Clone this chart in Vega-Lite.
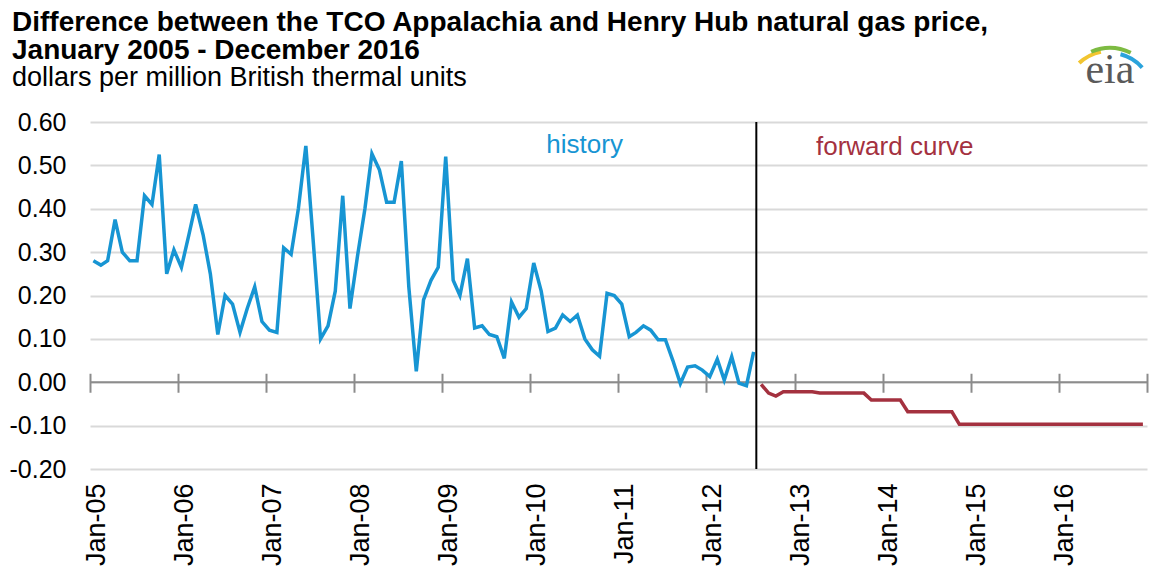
{
  "$schema": "https://vega.github.io/schema/vega-lite/v6.json",
  "width": 1057,
  "height": 347,
  "autosize": {"type": "none"},
  "padding": {"left": 90, "top": 122, "right": 6, "bottom": 109},
  "background": "white",
  "title": {
    "text": ["Difference between the TCO Appalachia and Henry Hub natural gas price,", "January 2005 - December  2016"],
    "subtitle": "dollars per million British thermal units",
    "anchor": "start",
    "frame": "group",
    "dx": -78,
    "dy": 65,
    "font": "Liberation Sans",
    "fontSize": 28,
    "fontWeight": "bold",
    "color": "#000000",
    "lineHeight": 28,
    "subtitleFont": "Liberation Sans",
    "subtitleFontSize": 27,
    "subtitleColor": "#000000",
    "subtitleLineHeight": 28,
    "subtitlePadding": 0,
    "offset": 20
  },
  "config": {
    "view": {"stroke": null},
    "axis": {"labelFont": "Liberation Sans", "labelColor": "#000000", "title": null}
  },
  "datasets": {
    "history": [
      {"date": "2005/01/15", "value": 0.28}, {"date": "2005/02/15", "value": 0.27}, {"date": "2005/03/15", "value": 0.28},
      {"date": "2005/04/15", "value": 0.375}, {"date": "2005/05/15", "value": 0.30}, {"date": "2005/06/15", "value": 0.28},
      {"date": "2005/07/15", "value": 0.28}, {"date": "2005/08/15", "value": 0.43}, {"date": "2005/09/15", "value": 0.41},
      {"date": "2005/10/15", "value": 0.525}, {"date": "2005/11/15", "value": 0.25}, {"date": "2005/12/15", "value": 0.305},
      {"date": "2006/01/15", "value": 0.265}, {"date": "2006/02/15", "value": 0.34}, {"date": "2006/03/15", "value": 0.41},
      {"date": "2006/04/15", "value": 0.34}, {"date": "2006/05/15", "value": 0.25}, {"date": "2006/06/15", "value": 0.11},
      {"date": "2006/07/15", "value": 0.20}, {"date": "2006/08/15", "value": 0.18}, {"date": "2006/09/15", "value": 0.115},
      {"date": "2006/10/15", "value": 0.17}, {"date": "2006/11/15", "value": 0.22}, {"date": "2006/12/15", "value": 0.14},
      {"date": "2007/01/15", "value": 0.12}, {"date": "2007/02/15", "value": 0.115}, {"date": "2007/03/15", "value": 0.31},
      {"date": "2007/04/15", "value": 0.295}, {"date": "2007/05/15", "value": 0.40}, {"date": "2007/06/15", "value": 0.545},
      {"date": "2007/07/15", "value": 0.33}, {"date": "2007/08/15", "value": 0.10}, {"date": "2007/09/15", "value": 0.13},
      {"date": "2007/10/15", "value": 0.21}, {"date": "2007/11/15", "value": 0.43}, {"date": "2007/12/15", "value": 0.17},
      {"date": "2008/01/15", "value": 0.29}, {"date": "2008/02/15", "value": 0.40}, {"date": "2008/03/15", "value": 0.527},
      {"date": "2008/04/15", "value": 0.49}, {"date": "2008/05/15", "value": 0.415}, {"date": "2008/06/15", "value": 0.415},
      {"date": "2008/07/15", "value": 0.51}, {"date": "2008/08/15", "value": 0.22}, {"date": "2008/09/15", "value": 0.025},
      {"date": "2008/10/15", "value": 0.19}, {"date": "2008/11/15", "value": 0.235}, {"date": "2008/12/15", "value": 0.265},
      {"date": "2009/01/15", "value": 0.52}, {"date": "2009/02/15", "value": 0.235}, {"date": "2009/03/15", "value": 0.20},
      {"date": "2009/04/15", "value": 0.285}, {"date": "2009/05/15", "value": 0.125}, {"date": "2009/06/15", "value": 0.13},
      {"date": "2009/07/15", "value": 0.11}, {"date": "2009/08/15", "value": 0.105}, {"date": "2009/09/15", "value": 0.055},
      {"date": "2009/10/15", "value": 0.185}, {"date": "2009/11/15", "value": 0.15}, {"date": "2009/12/15", "value": 0.17},
      {"date": "2010/01/15", "value": 0.275}, {"date": "2010/02/15", "value": 0.21}, {"date": "2010/03/15", "value": 0.117},
      {"date": "2010/04/15", "value": 0.125}, {"date": "2010/05/15", "value": 0.155}, {"date": "2010/06/15", "value": 0.14},
      {"date": "2010/07/15", "value": 0.155}, {"date": "2010/08/15", "value": 0.10}, {"date": "2010/09/15", "value": 0.075},
      {"date": "2010/10/15", "value": 0.06}, {"date": "2010/11/15", "value": 0.205}, {"date": "2010/12/15", "value": 0.20},
      {"date": "2011/01/15", "value": 0.18}, {"date": "2011/02/15", "value": 0.105}, {"date": "2011/03/15", "value": 0.115},
      {"date": "2011/04/15", "value": 0.13}, {"date": "2011/05/15", "value": 0.12}, {"date": "2011/06/15", "value": 0.098},
      {"date": "2011/07/15", "value": 0.098}, {"date": "2011/08/15", "value": 0.05}, {"date": "2011/09/15", "value": -0.003},
      {"date": "2011/10/15", "value": 0.035}, {"date": "2011/11/15", "value": 0.038}, {"date": "2011/12/15", "value": 0.028},
      {"date": "2012/01/15", "value": 0.013}, {"date": "2012/02/15", "value": 0.053}, {"date": "2012/03/15", "value": 0.005},
      {"date": "2012/04/15", "value": 0.059}, {"date": "2012/05/15", "value": -0.002}, {"date": "2012/06/15", "value": -0.008},
      {"date": "2012/07/15", "value": 0.07}
    ],
    "forward": [
      {"date": "2012/08/15", "value": -0.005}, {"date": "2012/09/15", "value": -0.025}, {"date": "2012/10/15", "value": -0.032},
      {"date": "2012/11/15", "value": -0.022}, {"date": "2012/12/15", "value": -0.022}, {"date": "2013/01/15", "value": -0.022},
      {"date": "2013/02/15", "value": -0.022}, {"date": "2013/03/15", "value": -0.022}, {"date": "2013/04/15", "value": -0.025},
      {"date": "2013/05/15", "value": -0.025}, {"date": "2013/06/15", "value": -0.025}, {"date": "2013/07/15", "value": -0.025},
      {"date": "2013/08/15", "value": -0.025}, {"date": "2013/09/15", "value": -0.025}, {"date": "2013/10/15", "value": -0.025},
      {"date": "2013/11/15", "value": -0.041}, {"date": "2013/12/15", "value": -0.041}, {"date": "2014/01/15", "value": -0.041},
      {"date": "2014/02/15", "value": -0.041}, {"date": "2014/03/15", "value": -0.041}, {"date": "2014/04/15", "value": -0.068},
      {"date": "2014/05/15", "value": -0.068}, {"date": "2014/06/15", "value": -0.068}, {"date": "2014/07/15", "value": -0.068},
      {"date": "2014/08/15", "value": -0.068}, {"date": "2014/09/15", "value": -0.068}, {"date": "2014/10/15", "value": -0.068},
      {"date": "2014/11/15", "value": -0.097}, {"date": "2014/12/15", "value": -0.097}, {"date": "2015/01/15", "value": -0.097},
      {"date": "2015/02/15", "value": -0.097}, {"date": "2015/03/15", "value": -0.097}, {"date": "2015/04/15", "value": -0.097},
      {"date": "2015/05/15", "value": -0.097}, {"date": "2015/06/15", "value": -0.097}, {"date": "2015/07/15", "value": -0.097},
      {"date": "2015/08/15", "value": -0.097}, {"date": "2015/09/15", "value": -0.097}, {"date": "2015/10/15", "value": -0.097},
      {"date": "2015/11/15", "value": -0.097}, {"date": "2015/12/15", "value": -0.097}, {"date": "2016/01/15", "value": -0.097},
      {"date": "2016/02/15", "value": -0.097}, {"date": "2016/03/15", "value": -0.097}, {"date": "2016/04/15", "value": -0.097},
      {"date": "2016/05/15", "value": -0.097}, {"date": "2016/06/15", "value": -0.097}, {"date": "2016/07/15", "value": -0.097},
      {"date": "2016/08/15", "value": -0.097}, {"date": "2016/09/15", "value": -0.097}, {"date": "2016/10/15", "value": -0.097},
      {"date": "2016/11/15", "value": -0.097}, {"date": "2016/12/15", "value": -0.097}
    ],
    "labels": [
      {"date": "2010/08/14", "value": 0.546, "label": "history", "series": "history"},
      {"date": "2014/02/20", "value": 0.543, "label": "forward curve", "series": "forward"}
    ],
    "divider": [
      {"date": "2012/07/26"}
    ]
  },
  "resolve": {"axis": {"x": "independent"}},
  "layer": [
    {
      "data": {"values": [{}]},
      "mark": {"type": "rule", "color": "#8c8c8c", "strokeWidth": 2},
      "encoding": {
        "y": {
          "datum": 0, "type": "quantitative",
          "scale": {"domain": [-0.2, 0.6], "nice": false, "zero": false},
          "axis": {
            "values": [-0.2, -0.1, 0, 0.1, 0.2, 0.3, 0.4, 0.5, 0.6],
            "labelExpr": "replace(format(datum.value, '.2f'), '\u2212', '-')",
            "labelFontSize": 25,
            "labelPadding": 24,
            "domain": false,
            "ticks": false,
            "grid": true,
            "gridColor": "#d9d9d9",
            "gridWidth": 2,
            "title": null
          }
        }
      }
    },
    {
      "data": {"name": "history"},
      "mark": {"type": "line", "color": "#1795d3", "strokeWidth": 3.5, "strokeJoin": "miter"},
      "encoding": {
        "x": {
          "field": "date", "type": "temporal",
          "scale": {"domain": [{"year": 2005, "month": 1, "date": 1}, {"year": 2017, "month": 1, "date": 1}]},
          "axis": {
            "orient": "bottom",
            "values": [
              {"year": 2005, "month": 1, "date": 1}, {"year": 2006, "month": 1, "date": 1}, {"year": 2007, "month": 1, "date": 1},
              {"year": 2008, "month": 1, "date": 1}, {"year": 2009, "month": 1, "date": 1}, {"year": 2010, "month": 1, "date": 1},
              {"year": 2011, "month": 1, "date": 1}, {"year": 2012, "month": 1, "date": 1}, {"year": 2013, "month": 1, "date": 1},
              {"year": 2014, "month": 1, "date": 1}, {"year": 2015, "month": 1, "date": 1}, {"year": 2016, "month": 1, "date": 1}
            ],
            "format": "%b-%y",
            "labelAngle": 270,
            "labelFontSize": 27,
            "labelPadding": 14,
            "labelOffset": 6,
            "domain": false,
            "ticks": false,
            "grid": false,
            "title": null
          }
        },
        "y": {"field": "value", "type": "quantitative"}
      }
    },
    {
      "data": {"name": "forward"},
      "mark": {"type": "line", "color": "#a4313f", "strokeWidth": 3.5, "strokeJoin": "miter"},
      "encoding": {
        "x": {
          "field": "date", "type": "temporal",
          "axis": {
            "orient": "bottom",
            "values": [
              {"year": 2005, "month": 1, "date": 1}, {"year": 2006, "month": 1, "date": 1}, {"year": 2007, "month": 1, "date": 1},
              {"year": 2008, "month": 1, "date": 1}, {"year": 2009, "month": 1, "date": 1}, {"year": 2010, "month": 1, "date": 1},
              {"year": 2011, "month": 1, "date": 1}, {"year": 2012, "month": 1, "date": 1}, {"year": 2013, "month": 1, "date": 1},
              {"year": 2014, "month": 1, "date": 1}, {"year": 2015, "month": 1, "date": 1}, {"year": 2016, "month": 1, "date": 1},
              {"year": 2017, "month": 1, "date": 1}
            ],
            "labels": false,
            "domain": false,
            "grid": false,
            "ticks": true,
            "tickSize": 19,
            "tickWidth": 2,
            "tickColor": "#8c8c8c",
            "offset": {"expr": "scale('y', 0) - 9 - height"},
            "title": null
          }
        },
        "y": {"field": "value", "type": "quantitative"}
      }
    },
    {
      "data": {"name": "divider"},
      "mark": {"type": "rule", "color": "#000000", "strokeWidth": 2},
      "encoding": {"x": {"field": "date", "type": "temporal", "axis": null}}
    },
    {
      "data": {"name": "labels"},
      "mark": {"type": "text", "font": "Liberation Sans", "fontSize": 26, "align": "center", "baseline": "middle"},
      "encoding": {
        "x": {"field": "date", "type": "temporal", "axis": null},
        "y": {"field": "value", "type": "quantitative"},
        "text": {"field": "label"},
        "color": {"field": "series", "type": "nominal", "scale": {"domain": ["history", "forward"], "range": ["#1795d3", "#a4313f"]}, "legend": null}
      }
    },
    {
      "data": {"values": [{}]},
      "mark": {"type": "arc", "color": "#f2c530", "radius": 47, "radius2": 43, "theta": -0.75, "theta2": -0.2, "clip": false},
      "encoding": {
        "x": {"datum": 1469923200000, "type": "temporal", "axis": null},
        "y": {"datum": 0.66, "type": "quantitative"}
      }
    },
    {
      "data": {"values": [{}]},
      "mark": {"type": "arc", "color": "#7dbb42", "radius": 50, "radius2": 46, "theta": -0.4, "theta2": 0.45, "clip": false},
      "encoding": {
        "x": {"datum": 1469923200000, "type": "temporal", "axis": null},
        "y": {"datum": 0.66, "type": "quantitative"}
      }
    },
    {
      "data": {"values": [{}]},
      "mark": {"type": "arc", "color": "#2aa3dc", "radius": 45, "radius2": 41, "theta": 0.25, "theta2": 0.85, "clip": false},
      "encoding": {
        "x": {"datum": 1469923200000, "type": "temporal", "axis": null},
        "y": {"datum": 0.66, "type": "quantitative"}
      }
    },
    {
      "data": {"values": [{}]},
      "mark": {"type": "text", "text": "eia", "font": "Liberation Serif", "fontSize": 42, "color": "#5a5a5a", "align": "center", "baseline": "alphabetic", "clip": false},
      "encoding": {
        "x": {"datum": 1469923200000, "type": "temporal", "axis": null},
        "y": {"datum": 0.691, "type": "quantitative"}
      }
    }
  ]
}
